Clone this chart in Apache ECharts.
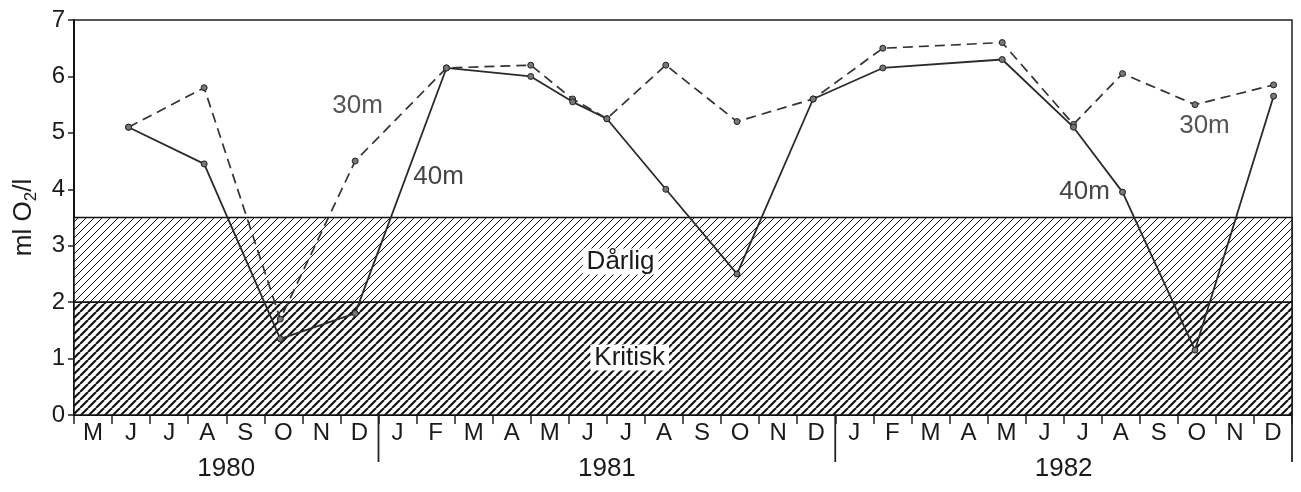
<!DOCTYPE html>
<html>
<head>
<meta charset="utf-8">
<script src="https://cdn.jsdelivr.net/npm/echarts@6/dist/echarts.min.js"></script>
<style>
html,body{margin:0;padding:0;background:#fff;}
#chart{width:1301px;height:492px;}
</style>
</head>
<body>
<div id="chart"></div>
<script>
// ---- data ----
const months1980 = ['M','J','J','A','S','O','N','D'];
const months1981 = ['J','F','M','A','M','J','J','A','S','O','N','D'];
const months1982 = ['J','F','M','A','M','J','J','A','S','O','N','D'];
const years = ['1980','1981','1982'];
const sampleDates = ['1980-06-14','1980-08-14','1980-10-14','1980-12-13',
  '1981-02-23','1981-05-01','1981-06-04','1981-07-01','1981-08-18','1981-10-14','1981-12-14',
  '1982-02-08','1982-05-13','1982-07-09','1982-08-18','1982-10-15','1982-12-17'];
const o2_30m = [5.1, 5.8, 1.7, 4.5, 6.15, 6.2, 5.6, 5.25, 6.2, 5.2, 5.6, 6.5, 6.6, 5.15, 6.05, 5.5, 5.85];
const o2_40m = [5.1, 4.45, 1.35, 1.8, 6.15, 6.0, 5.55, 5.25, 4.0, 2.5, 5.6, 6.15, 6.3, 5.1, 3.95, 1.15, 5.65];
const bandDarlig = [2, 3.5];
const bandKritisk = [0, 2];
const yMin = 0, yMax = 7;

// ---- derived ----
const yearMonths = [months1980, months1981, months1982];
const allMonths = [].concat(...yearMonths);
const startYear = 1980, startMonth = 5;
function monthPos(s) {
  const [y, m, d] = s.split('-').map(Number);
  const dim = new Date(y, m, 0).getDate();
  return (y - startYear) * 12 + (m - startMonth) + (d - 1) / dim;
}
const xs = sampleDates.map(monthPos);
const s30 = xs.map((x, i) => [x, o2_30m[i]]);
const s40 = xs.map((x, i) => [x, o2_40m[i]]);
const yearEnds = [];
const yearCenters = [];
let acc = 0;
yearMonths.forEach(ms => { yearCenters.push(acc + ms.length / 2); acc += ms.length; yearEnds.push(acc); });
const nMonths = allMonths.length;

const FONT = 'Liberation Sans';
const INK = '#1a1a1a';

function hatch(period, lw) {
  const c = document.createElement('canvas');
  c.width = period; c.height = period;
  const g = c.getContext('2d');
  g.fillStyle = '#fff'; g.fillRect(0, 0, period, period);
  g.strokeStyle = '#111'; g.lineWidth = lw;
  for (let k = -1; k <= 1; k++) {
    g.beginPath();
    g.moveTo(k * period, period);
    g.lineTo(k * period + period, 0);
    g.stroke();
  }
  return c;
}
const patDarlig = { image: hatch(8, 1.0), repeat: 'repeat' };
const patKritisk = { image: hatch(8, 2.1), repeat: 'repeat' };

const chart = echarts.init(document.getElementById('chart'), null, { renderer: 'canvas' });

const option = {
  animation: false,
  backgroundColor: '#fff',
  grid: { left: 74, right: 9, top: 20, bottom: 77, containLabel: false, outerBoundsMode: 'none',
    show: true, borderColor: '#222', borderWidth: 1.5, backgroundColor: 'transparent' },
  xAxis: [
    { type: 'value', min: 0, max: nMonths, interval: 1, position: 'bottom',
      axisLine: { show: true, onZero: false, lineStyle: { color: '#111', width: 2 } },
      axisTick: { show: true, length: 9, lineStyle: { color: '#222', width: 1.5 } },
      axisLabel: { show: false }, splitLine: { show: false } },
    { type: 'category', data: allMonths, boundaryGap: true, position: 'bottom',
      axisLine: { show: false }, axisTick: { show: false }, splitLine: { show: false },
      axisLabel: { show: true, interval: 0, margin: 6, fontSize: 24, fontFamily: FONT, color: INK } }
  ],
  yAxis: {
    type: 'value', min: yMin, max: yMax, interval: 1,
    name: 'ml O{s|2}/l', nameLocation: 'middle', nameGap: 34,
    nameTextStyle: { fontSize: 26, fontFamily: FONT, color: INK, lineHeight: 32,
      rich: { s: { fontSize: 17, fontFamily: FONT, color: INK, verticalAlign: 'bottom', lineHeight: 32 } } },
    axisLine: { show: true, lineStyle: { color: '#111', width: 2 } },
    axisTick: { show: true, length: 6, lineStyle: { color: '#222', width: 1.5 } },
    axisLabel: { fontSize: 24, fontFamily: FONT, color: INK, margin: 9 },
    splitLine: { show: false }
  },
  series: [
    { type: 'line', name: 'bands', data: [], silent: true, z: 1,
      markArea: { silent: true,
        data: [
          [{ yAxis: bandDarlig[0], itemStyle: { color: patDarlig, borderColor: '#111', borderWidth: 1.5 } }, { yAxis: bandDarlig[1] }],
          [{ yAxis: bandKritisk[0], itemStyle: { color: patKritisk, borderColor: '#111', borderWidth: 1.5 } }, { yAxis: bandKritisk[1] }]
        ] },
      markPoint: { silent: true, symbol: 'rect', symbolSize: 0,
        label: { show: true, position: 'inside', fontSize: 26, fontFamily: FONT, color: INK,
          backgroundColor: '#fff', padding: [0, 4, 0, 4] },
        data: [
          { coord: [14.36, 2.72], value: 'Dårlig', label: { formatter: 'Dårlig' } },
          { coord: [14.6, 1.02], value: 'Kritisk', label: { formatter: 'Kritisk' } }
        ] }
    },
    { type: 'line', name: '30m', data: s30, z: 5,
      lineStyle: { color: '#333', width: 1.7, type: [10, 6] },
      symbol: 'circle', symbolSize: 6,
      itemStyle: { color: '#777', borderColor: '#222', borderWidth: 1 },
      markPoint: { silent: true, symbol: 'rect', symbolSize: 0,
        label: { show: true, position: 'inside', fontSize: 26, fontFamily: FONT, color: '#555' },
        data: [
          { coord: [7.45, 5.48], value: '30m', label: { formatter: '30m' } },
          { coord: [29.7, 5.12], value: '30m', label: { formatter: '30m' } }
        ] }
    },
    { type: 'line', name: '40m', data: s40, z: 6,
      lineStyle: { color: '#2a2a2a', width: 1.8, type: 'solid' },
      symbol: 'circle', symbolSize: 6,
      itemStyle: { color: '#777', borderColor: '#222', borderWidth: 1 },
      markPoint: { silent: true, symbol: 'rect', symbolSize: 0,
        label: { show: true, position: 'inside', fontSize: 26, fontFamily: FONT, color: '#444' },
        data: [
          { coord: [9.58, 4.22], value: '40m', label: { formatter: '40m' } },
          { coord: [26.55, 3.95], value: '40m', label: { formatter: '40m' } }
        ] }
    },
    { type: 'custom', name: 'yearTicks', silent: true, clip: false, z: 4,
      data: yearEnds.map(v => [v, yMin]),
      renderItem: function (params, api) {
        const p = api.coord([api.value(0), api.value(1)]);
        return { type: 'line', shape: { x1: p[0], y1: p[1], x2: p[0], y2: p[1] + 47 },
          style: { stroke: '#222', lineWidth: 1.8 } };
      } },
    { type: 'custom', name: 'yearLabels', silent: true, clip: false, z: 4,
      data: yearCenters.map((v, i) => [v, yMin, years[i]]),
      renderItem: function (params, api) {
        const p = api.coord([api.value(0), api.value(1)]);
        return { type: 'text', x: p[0], y: p[1] + 54,
          style: { text: years[params.dataIndex], fontSize: 26, fontFamily: FONT, fill: INK,
            align: 'center', verticalAlign: 'middle' } };
      } }
  ]
};
chart.setOption(option);
</script>
</body>
</html>
